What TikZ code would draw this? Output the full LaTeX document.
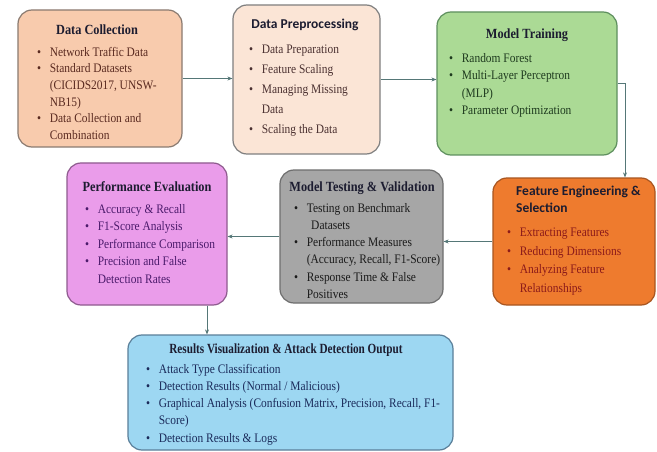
\documentclass[tikz,border=0pt]{standalone}
\usepackage{fontspec}
\setmainfont{Liberation Serif}
\newfontfamily\calib{Carlito}
\usetikzlibrary{arrows.meta,calc}
\definecolor{c1f}{HTML}{F8CBAD}\definecolor{c1d}{HTML}{8A7A70}
\definecolor{c2f}{HTML}{FBE5D6}\definecolor{c2d}{HTML}{7F7F7F}
\definecolor{c3f}{HTML}{ABDA95}\definecolor{c3d}{HTML}{5E8F5E}
\definecolor{c4f}{HTML}{EA9CEA}\definecolor{c4d}{HTML}{8E5B8E}
\definecolor{c5f}{HTML}{A6A6A6}\definecolor{c5d}{HTML}{6E6E6E}
\definecolor{c6f}{HTML}{EE7B2E}\definecolor{c6d}{HTML}{A85520}
\definecolor{c7f}{HTML}{9DD7F2}\definecolor{c7d}{HTML}{5A7F99}
\definecolor{arrowc}{HTML}{557777}
\definecolor{t1}{HTML}{5A2A20}
\definecolor{t2}{HTML}{4A3030}
\definecolor{t3}{HTML}{1E3A1E}
\definecolor{t4}{HTML}{4B1A6B}
\definecolor{t5}{HTML}{1A1A1A}
\definecolor{t6}{HTML}{8B1A1A}
\definecolor{t7}{HTML}{1A2A5A}
\definecolor{ttl}{HTML}{1C1C30}
\newenvironment{blist}[1][17]{\begin{list}{\textbullet}{\setlength\leftmargin{15.5pt}\setlength\labelwidth{8pt}\setlength\labelsep{10pt}\setlength\itemsep{0pt}\setlength\parsep{0pt}\setlength\topsep{0pt}\setlength\partopsep{0pt}\setlength\itemindent{0pt}\setlength\listparindent{0pt}}\fontsize{13}{#1}\selectfont\raggedright}{\end{list}}
\newcommand{\sq}[2]{\scalebox{0.88}[1]{\parbox[t]{#1}{#2}}}
\begin{document}
\begin{tikzpicture}[x=1pt,y=-1pt,
  box/.style={draw, rounded corners=14pt, line width=1.2pt},
  ttlnode/.style={font=\rmfamily\fontsize{14}{16}\selectfont\bfseries, inner sep=0pt, text=ttl},
  items/.style={anchor=north west, inner sep=0pt, font=\rmfamily},
  arr/.style={draw=arrowc, line width=0.9pt, -{Stealth[length=5pt,width=4pt]}}]
\fill[white] (0,0) rectangle (657,452);
\useasboundingbox (0,0) rectangle (657,452);
% boxes
\node[box, fill=c1f, draw=c1d, minimum width=164pt, minimum height=137pt] (B1) at (100,78.5) {};
\node[box, fill=c2f, draw=c2d, minimum width=147pt, minimum height=149pt] (B2) at (306.5,79.5) {};
\node[box, fill=c3f, draw=c3d, minimum width=180pt, minimum height=143pt] (B3) at (527,83.5) {};
\node[box, fill=c4f, draw=c4d, minimum width=160pt, minimum height=142pt] (B4) at (147,234) {};
\node[box, fill=c5f, draw=c5d, minimum width=163pt, minimum height=133pt] (B5) at (361.5,236.5) {};
\node[box, fill=c6f, draw=c6d, minimum width=162pt, minimum height=127pt] (B6) at (574,241.5) {};
\node[box, fill=c7f, draw=c7d, minimum width=325pt, minimum height=115pt] (B7) at (290.5,392.5) {};
% connectors
\draw[arr] (B1.east) -- (B1.east -| B2.west);
\draw[arr] (B2.east) -- (B2.east -| B3.west);
\coordinate (c36) at ($(B6.north)+(51,0)$);
\draw[arr] (B3.east) -| (c36);
\draw[arr] (B6.west) -- (B6.west -| B5.east);
\draw[arr] (B5.west) -- (B5.west -| B4.east);
\coordinate (c47) at ($(B4.south)+(60,0)$);
\draw[arr] (c47) -- (c47 |- B7.north);
% titles
\node[ttlnode] (T1) at (97,30) {\scalebox{0.88}[1]{Data Collection}};
\node[ttlnode, font=\calib\fontsize{13.5}{16}\selectfont\bfseries] (T2) at (305,25) {Data Preprocessing};
\node[ttlnode] (T3) at (527,35) {\scalebox{0.88}[1]{Model Training}};
\node[ttlnode] (T4) at (147,187) {\scalebox{0.88}[1]{Performance Evaluation}};
\node[ttlnode] (T5) at (362,188) {\scalebox{0.88}[1]{Model Testing \& Validation}};
\node[ttlnode, anchor=north west, align=left, font=\calib\fontsize{13.5}{17}\selectfont\bfseries, text=ttl] (T6) at (516,186) {Feature Engineering \&\\Selection};
\node[ttlnode] (T7) at (286,350) {\scalebox{0.8}[1]{Results Visualization \& Attack Detection Output}};
% item lists
\node[items, text=t1] (L1) at (36,47) {\sq{190pt}{\begin{blist}[16.6]
\item Network Traffic Data
\item Standard Datasets\\(CICIDS2017, UNSW-\\NB15)
\item Data Collection and\\Combination
\end{blist}}};
\node[items, text=t2] (L2) at (248,45) {\sq{180pt}{\begin{blist}[20]
\item Data Preparation
\item Feature Scaling
\item Managing Missing\\Data
\item Scaling the Data
\end{blist}}};
\node[items, text=t3] (L3) at (448,53) {\sq{200pt}{\begin{blist}[17.5]
\item Random Forest
\item Multi-Layer Perceptron\\(MLP)
\item Parameter Optimization
\end{blist}}};
\node[items, text=t4] (L4) at (84,204) {\sq{190pt}{\begin{blist}[17.5]
\item Accuracy \& Recall
\item F1-Score Analysis
\item Performance Comparison
\item Precision and False\\Detection Rates
\end{blist}}};
\node[items, text=t5] (L5) at (293,203) {\sq{190pt}{\begin{blist}[17.2]
\item Testing on Benchmark\\\hspace*{5pt}Datasets
\item Performance Measures\\(Accuracy, Recall, F1-Score)
\item Response Time \& False\\Positives
\end{blist}}};
\node[items, text=t6] (L6) at (506,228) {\sq{190pt}{\begin{blist}[18.5]
\item Extracting Features
\item Reducing Dimensions
\item Analyzing Feature\\Relationships
\end{blist}}};
\node[items, text=t7] (L7) at (145,364) {\sq{370pt}{\begin{blist}[17.2]
\item Attack Type Classification
\item Detection Results (Normal / Malicious)
\item Graphical Analysis (Confusion Matrix, Precision, Recall, F1-\\Score)
\item Detection Results \& Logs
\end{blist}}};
\end{tikzpicture}
\end{document}
